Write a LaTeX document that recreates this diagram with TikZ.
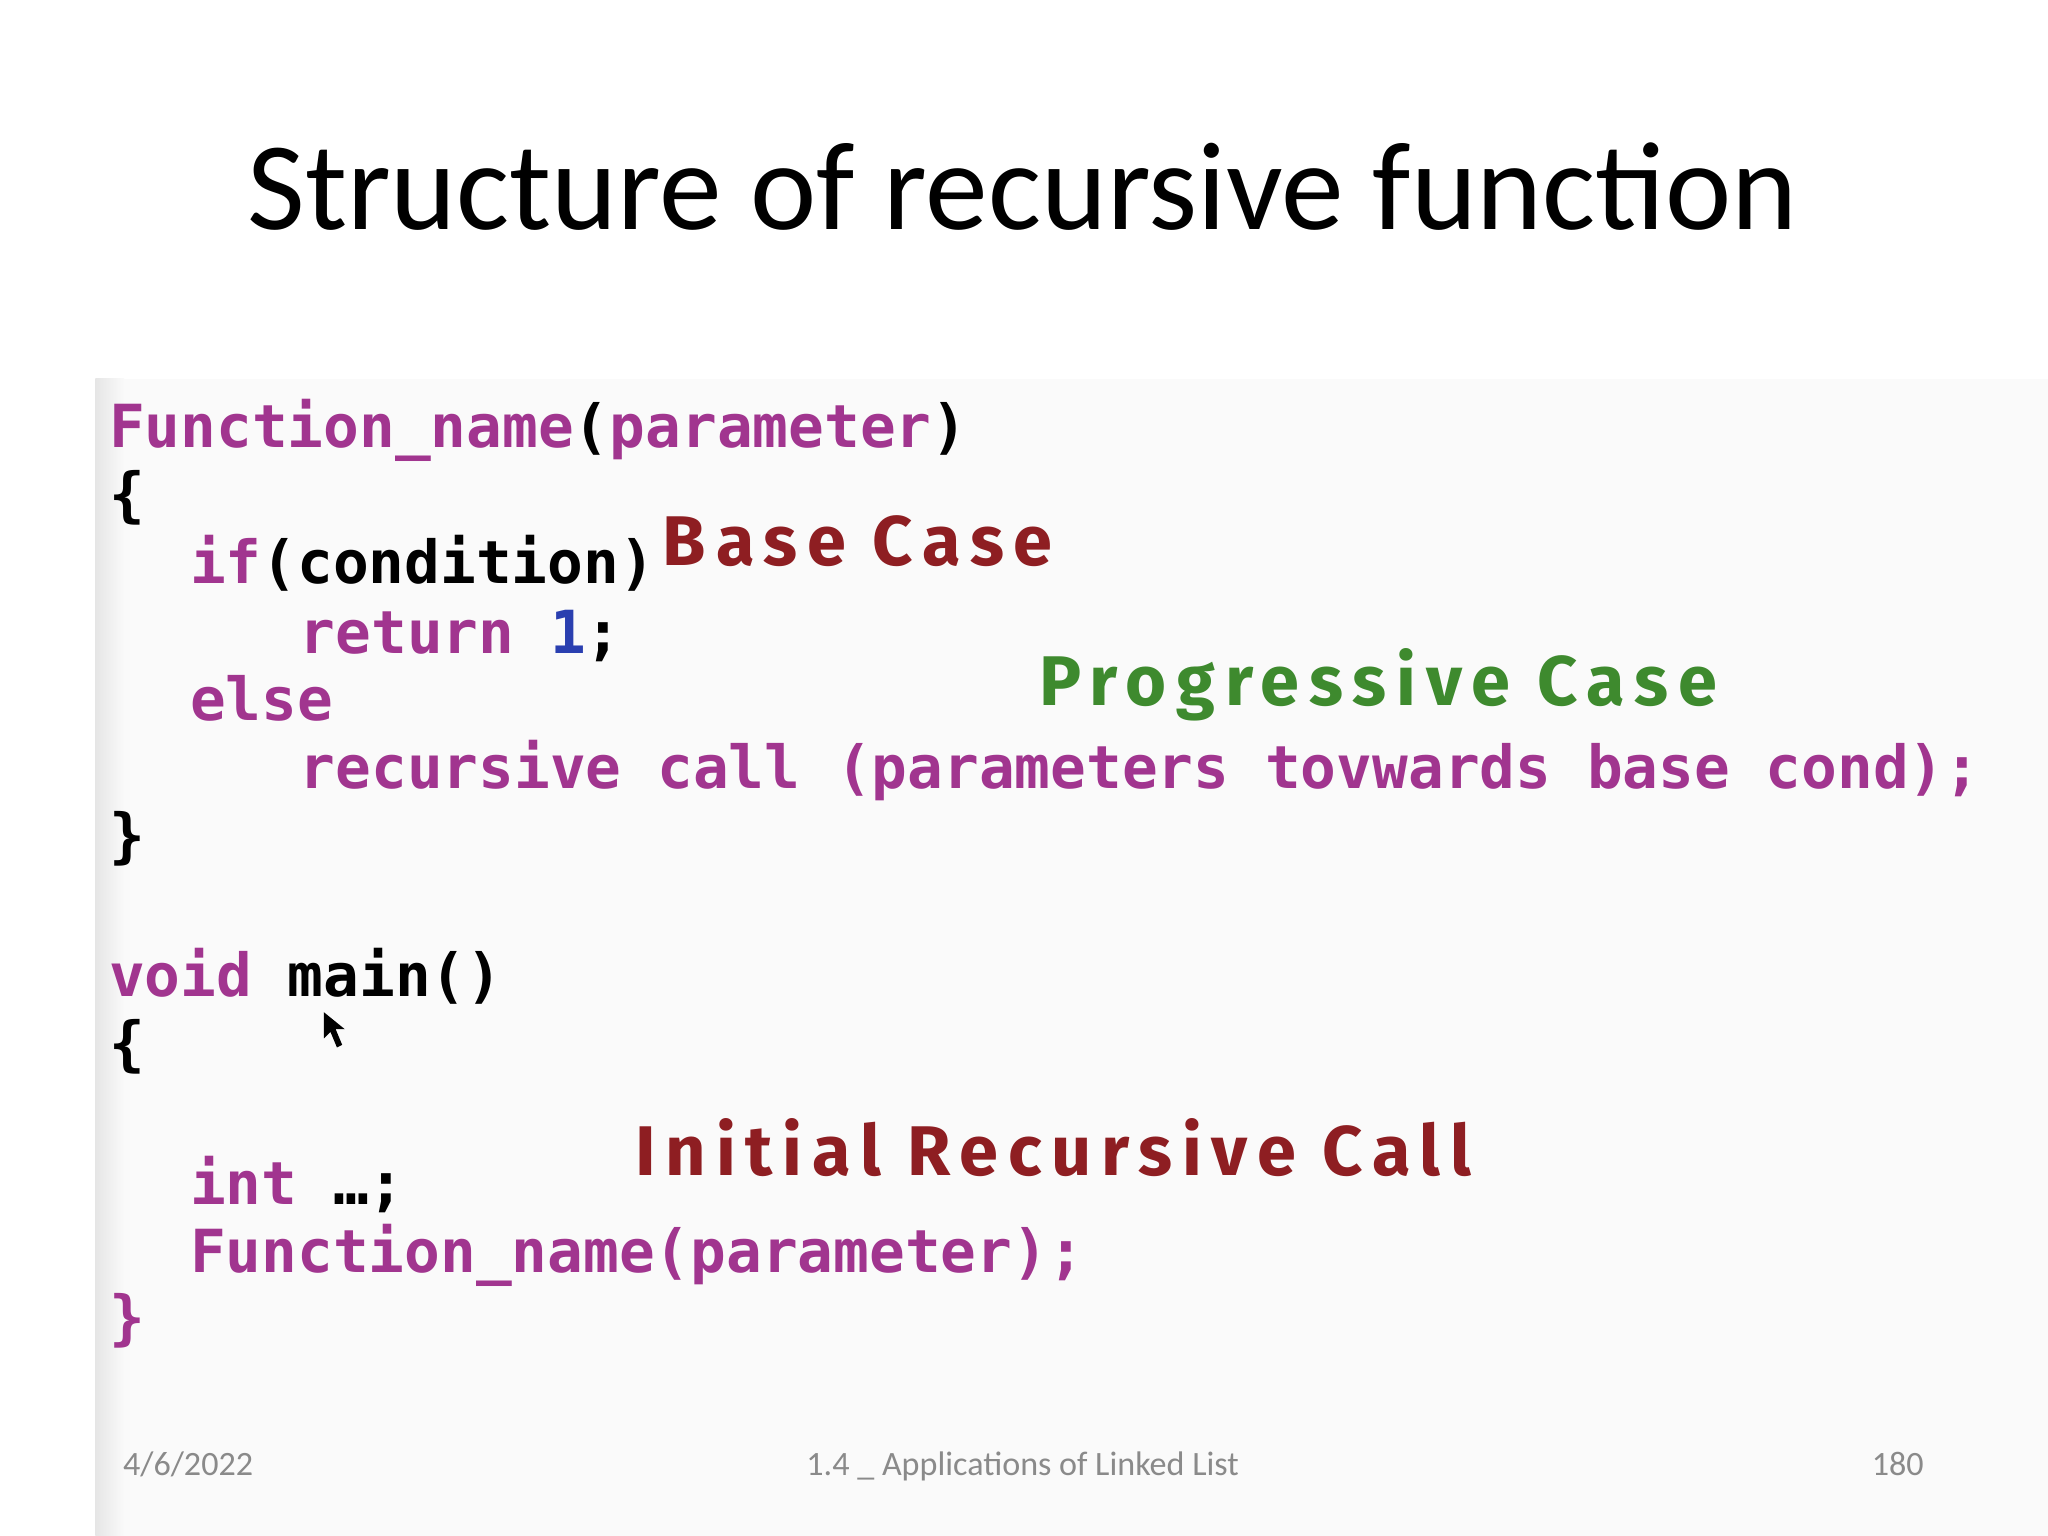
\documentclass[tikz,border=0pt]{standalone}
\usepackage{fontspec}
\setmainfont{Carlito}
\newfontfamily\codefont{DejaVu Sans Mono}
\newfontfamily\labfont[LetterSpace=14]{Fira Sans}
\definecolor{kw}{HTML}{A1358F}
\definecolor{num}{HTML}{2A3FB0}
\definecolor{lred}{HTML}{8E1E22}
\definecolor{lgreen}{HTML}{3E8A2E}
\definecolor{foot}{HTML}{8A8A8A}
\tikzset{
 code/.style={anchor=base west,inner sep=0pt,font=\codefont\bfseries\fontsize{16.9}{18}\selectfont},
 lab/.style={anchor=base west,inner sep=0pt,font=\labfont\bfseries\fontsize{20}{22}\selectfont},
 ft/.style={anchor=base,inner sep=0pt,text=foot,font=\fontsize{9.7}{11}\selectfont}
}
\begin{document}
\begin{tikzpicture}[x=0.01306cm,y=-0.01306cm]
\useasboundingbox (0,0) rectangle (1568,1176);
\fill[white] (0,0) rectangle (1568,1176);
\fill[black!2] (73,290) rectangle (1568,1176);
\shade[left color=black!10,right color=black!2] (73,290) rectangle (95,1176);
\node[anchor=base,inner sep=0pt,font=\fontsize{35.7}{38}\selectfont] (title) at (783,176) {Structure of recursive function};
\node[code] (l1) at (83,343) {\textcolor{kw}{Function\_name}(\textcolor{kw}{parameter})};
\node[code] (l2) at (83,395) {\{};
\node[code] (l3) at (145,447) {\textcolor{kw}{if}(condition)};
\node[code] (l4) at (229,500) {\textcolor{kw}{return} \textcolor{num}{1};};
\node[code] (l5) at (145,552) {\textcolor{kw}{else}};
\node[code] (l6) at (229,604) {\textcolor{kw}{recursive call (parameters tovwards base cond);}};
\node[code] (l7) at (83,656) {\}};
\node[code] (l8) at (83,763) {\textcolor{kw}{void} main()};
\node[code] (l9) at (83,815) {\{};
\node[code] (l10) at (145,922) {\textcolor{kw}{int} …;};
\node[code] (l11) at (145,974) {\textcolor{kw}{Function\_name(parameter);}};
\node[code] (l12) at (83,1025) {\textcolor{kw}{\}}};
\node[lab,text=lred] (base) at (507,433) {Base Case};
\node[lab,text=lgreen] (prog) at (795,540) {Progressive Case};
\node[lab,text=lred] (init) at (486,900) {Initial Recursive Call};
\fill (248,775) -- (248,795) -- (253,790) -- (258,802) -- (262,800) -- (257,788) -- (264,788) -- cycle;
\node[ft] (date) at (144,1130) {4/6/2022};
\node[ft] (mid) at (783,1130) {1.4 \_ Applications of Linked List};
\node[ft] (pg) at (1453,1130) {180};
\end{tikzpicture}
\end{document}
